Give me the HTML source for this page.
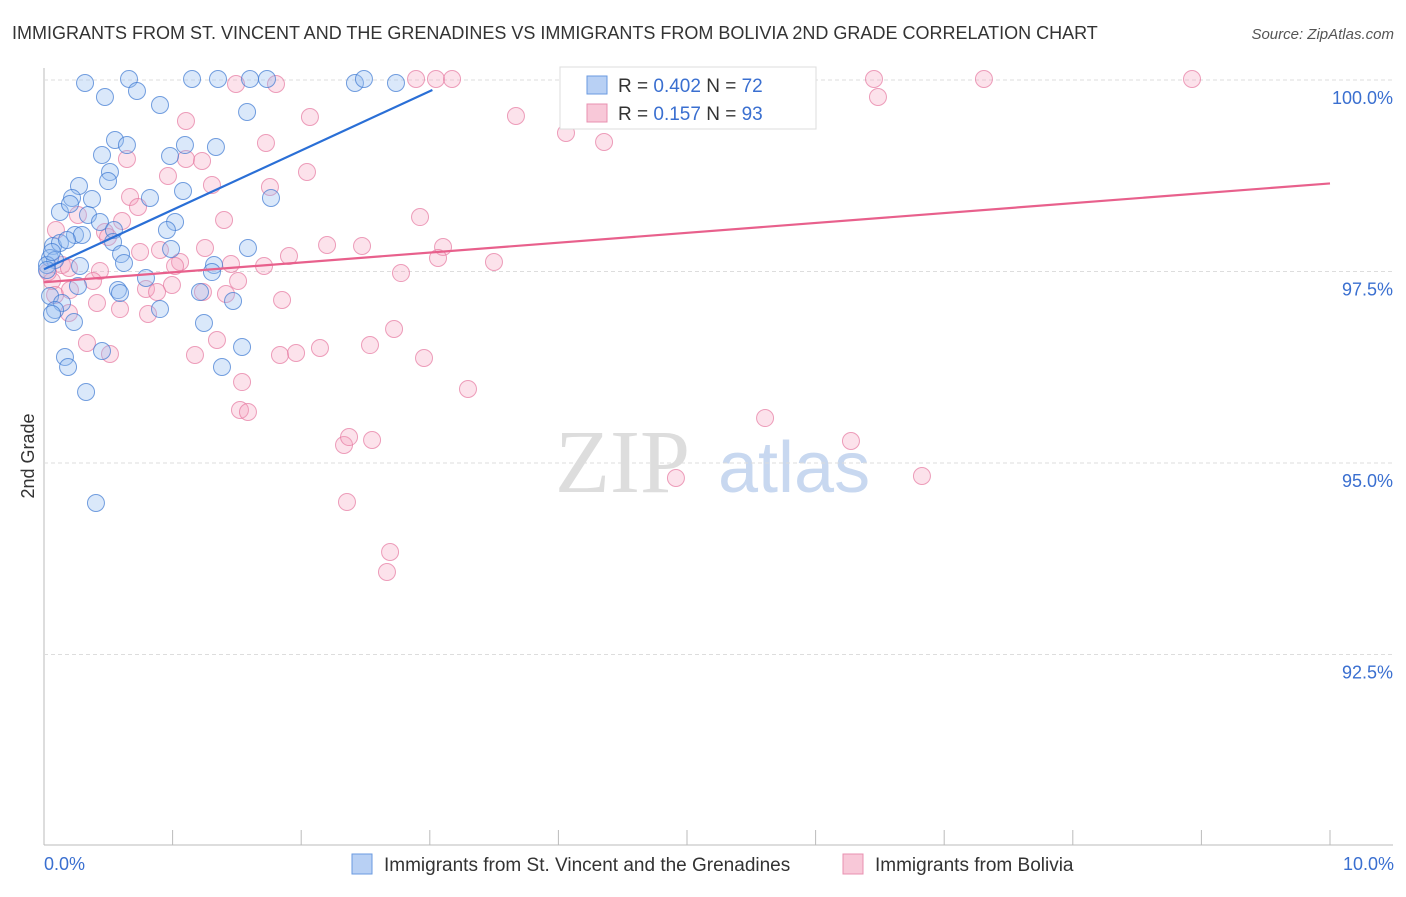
<!DOCTYPE html>
<html><head><meta charset="utf-8"><style>
body{margin:0;background:#fff;font-family:"Liberation Sans",sans-serif;}
</style></head><body>
<svg id="c" width="1406" height="892" xmlns="http://www.w3.org/2000/svg">
<text x="12" y="39" font-size="18" fill="#333">IMMIGRANTS FROM ST. VINCENT AND THE GRENADINES VS IMMIGRANTS FROM BOLIVIA 2ND GRADE CORRELATION CHART</text>
<text x="1394" y="39" font-size="15" fill="#555" font-style="italic" text-anchor="end">Source: ZipAtlas.com</text>
<text x="555" y="492" font-size="90" fill="#ddd" font-family="Liberation Serif,serif">ZIP</text>
<text x="718" y="492" font-size="72" fill="#c8d8f0">atlas</text>
<text x="34" y="456" font-size="18" fill="#333" transform="rotate(-90 34 456)" text-anchor="middle">2nd Grade</text>
<g id="grid"></g><g id="pts"></g><g id="lines"></g>
<g>
<rect x="560" y="67" width="256" height="62" fill="#fff" stroke="#ddd"/>
<rect x="587" y="76" width="20" height="18" fill="#b8d0f4" stroke="#6a9ae0"/>
<text x="618" y="92" font-size="19" fill="#333">R = <tspan fill="#3a6fd0">0.402</tspan>   N = <tspan fill="#3a6fd0">72</tspan></text>
<rect x="587" y="104" width="20" height="18" fill="#f8c8d8" stroke="#e890b0"/>
<text x="618" y="120" font-size="19" fill="#333">R =  <tspan fill="#3a6fd0">0.157</tspan>   N = <tspan fill="#3a6fd0">93</tspan></text>
</g>
<g>
<rect x="352" y="854" width="20" height="20" fill="#b8d0f4" stroke="#6a9ae0"/>
<text x="384" y="871" font-size="19" fill="#333">Immigrants from St. Vincent and the Grenadines</text>
<rect x="843" y="854" width="20" height="20" fill="#f8c8d8" stroke="#e890b0"/>
<text x="875" y="871" font-size="19" fill="#333">Immigrants from Bolivia</text>
</g>
<text x="44" y="870" font-size="18" fill="#3a6fd0">0.0%</text>
<text x="1394" y="870" font-size="18" fill="#3a6fd0" text-anchor="end">10.0%</text>
</svg>
<script>
const yTicks=[100,97.5,95,92.5];
const yTickLabels=["100.0%","97.5%","95.0%","92.5%"];
const blueX=[85,129,192,218,250,267,355,364,396,105,137,160,247,115,127,102,170,185,216,110,108,79,72,92,150,183,271,60,70,88,100,175,167,75,82,114,53,60,67,113,121,171,248,50,55,80,124,214,212,47,146,78,118,120,200,233,50,62,160,55,52,74,204,242,102,65,68,222,86,96,47,52].map(p=>+((p-44)/128.6).toFixed(3));
const blueY=[83,79,79,79,79,79,83,79,83,97,91,105,112,140,145,155,156,145,147,172,181,186,198,199,198,191,198,212,204,215,222,222,230,235,235,230,246,243,240,242,254,249,248,258,260,266,263,265,272,265,278,286,290,293,292,301,296,303,309,310,314,322,323,347,351,357,367,367,392,503,270,252].map(p=>+(100-(p-80)/76.6).toFixed(3));
const pinkX=[236,276,416,436,452,572,760,874,984,1192,878,516,310,186,566,266,604,127,186,202,168,307,212,270,130,138,78,122,224,420,56,105,108,327,362,443,205,140,160,289,438,494,62,180,231,264,100,69,401,175,238,52,93,172,146,157,203,226,282,120,97,148,69,217,87,110,195,280,296,320,370,394,424,242,468,240,248,765,851,344,372,349,922,676,347,390,387,48,55,70].map(p=>+((p-44)/128.6).toFixed(3));
const pinkY=[84,84,79,79,79,79,79,79,79,79,97,116,117,121,133,143,142,159,159,161,176,172,185,187,197,207,215,221,220,217,230,232,237,245,246,247,248,252,250,256,258,262,265,262,264,266,271,268,273,266,281,281,281,285,289,292,292,294,300,309,303,314,313,340,343,354,355,355,353,348,345,329,358,382,389,410,412,418,441,445,440,437,476,478,502,552,572,272,295,290].map(p=>+(100-(p-80)/76.6).toFixed(3));
const blueLine=[[0,97.53],[3.02,99.87]];
const pinkLine=[[0,97.36],[10,98.65]];
const X=v=>44+v*128.6, Y=v=>80+(100-v)*76.6;
const NS="http://www.w3.org/2000/svg";
function mk(t,a,parent){const e=document.createElementNS(NS,t);for(const k in a)e.setAttribute(k,a[k]);document.getElementById(parent).appendChild(e);return e;}
const svg=document.getElementById('c');
let ax=mk('line',{x1:44,y1:68,x2:44,y2:845,stroke:'#bbb'},'grid');


let bx=mk('line',{x1:44,y1:845,x2:1393,y2:845,stroke:'#bbb'},'grid');


for(let i=0;i<=10;i++){const t=mk('line',{x1:X(i),y1:830,x2:X(i),y2:845,stroke:'#bbb'},'grid');

}
yTicks.forEach((v,i)=>{const g=mk('line',{x1:44,y1:Y(v),x2:1393,y2:Y(v),stroke:'#ddd','stroke-dasharray':'4,3'},'grid');


const t=mk('text',{x:1393,y:Y(v)+24,'font-size':18,fill:'#3a6fd0','text-anchor':'end'},'grid');t.textContent=yTickLabels[i];

});
pinkX.forEach((v,i)=>{const c=mk('circle',{cx:X(v),cy:Y(pinkY[i]),r:8.5,fill:'rgba(244,160,190,0.3)',stroke:'rgba(230,120,160,0.7)','stroke-width':1},'pts');

});
blueX.forEach((v,i)=>{const c=mk('circle',{cx:X(v),cy:Y(blueY[i]),r:8.5,fill:'rgba(150,190,240,0.35)',stroke:'rgba(60,120,210,0.7)','stroke-width':1},'pts');

});
let l1=mk('line',{x1:X(blueLine[0][0]),y1:Y(blueLine[0][1]),x2:X(blueLine[1][0]),y2:Y(blueLine[1][1]),stroke:'#2a6fd6','stroke-width':2.2},'lines');


let l2=mk('line',{x1:X(pinkLine[0][0]),y1:Y(pinkLine[0][1]),x2:X(pinkLine[1][0]),y2:Y(pinkLine[1][1]),stroke:'#e8608c','stroke-width':2.2},'lines');


</script>
</body></html>
